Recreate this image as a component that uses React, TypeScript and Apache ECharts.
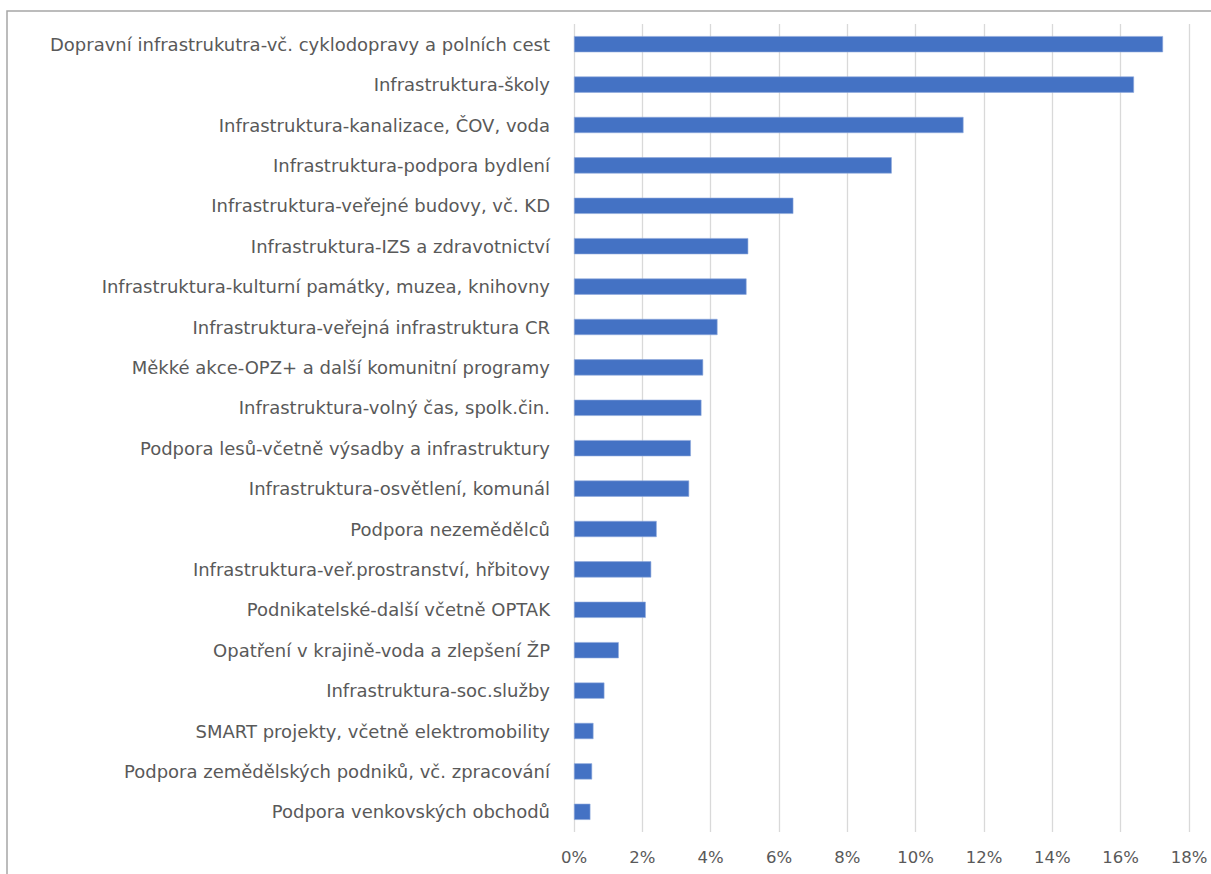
import React, { useEffect, useRef } from "react";
import * as echarts from "echarts";

const categories: string[] = [
  "Dopravní infrastrukutra-vč. cyklodopravy a polních cest",
  "Infrastruktura-školy",
  "Infrastruktura-kanalizace, ČOV, voda",
  "Infrastruktura-podpora bydlení",
  "Infrastruktura-veřejné budovy, vč. KD",
  "Infrastruktura-IZS a zdravotnictví",
  "Infrastruktura-kulturní památky, muzea, knihovny",
  "Infrastruktura-veřejná infrastruktura CR",
  "Měkké akce-OPZ+ a další komunitní programy",
  "Infrastruktura-volný čas, spolk.čin.",
  "Podpora lesů-včetně výsadby a infrastruktury",
  "Infrastruktura-osvětlení, komunál",
  "Podpora nezemědělců",
  "Infrastruktura-veř.prostranství, hřbitovy",
  "Podnikatelské-další včetně OPTAK",
  "Opatření v krajině-voda a zlepšení ŽP",
  "Infrastruktura-soc.služby",
  "SMART projekty, včetně elektromobility",
  "Podpora zemědělských podniků, vč. zpracování",
  "Podpora venkovských obchodů",
];

const shares: number[] = [
  0.1724, 0.1639, 0.114, 0.093, 0.0642, 0.051, 0.0505, 0.042, 0.0378, 0.0373,
  0.0342, 0.0337, 0.0242, 0.0226, 0.021, 0.0131, 0.0089, 0.0057, 0.0053, 0.0048,
];

const xMin = 0;
const xMax = 0.18;
const xStep = 0.02;

export default function App() {
  const ref = useRef<HTMLDivElement>(null);
  useEffect(() => {
    if (!ref.current) return;
    const chart = echarts.init(ref.current, undefined, { renderer: "svg" });
    chart.setOption({
      animation: false,
      backgroundColor: "#ffffff",
      textStyle: { fontFamily: "DejaVu Sans" },
      graphic: [
        {
          type: "rect",
          shape: { x: 7, y: 11, width: 1240, height: 900 },
          style: { fill: "none", stroke: "#A6A6A6", lineWidth: 1.5 },
          silent: true,
        },
      ],
      grid: { left: 574, right: 22, top: 24, bottom: 42 },
      xAxis: {
        type: "value",
        min: xMin,
        max: xMax,
        interval: xStep,
        axisLine: { show: false },
        axisTick: { show: false },
        splitLine: { show: true, lineStyle: { color: "#D9D9D9", width: 1.3 } },
        axisLabel: {
          color: "#595959",
          fontSize: 16.5,
          margin: 17,
          formatter: (v: number) => `${Math.round(v * 100)}%`,
        },
      },
      yAxis: {
        type: "category",
        inverse: true,
        data: categories,
        axisLine: { show: false },
        axisTick: { show: false },
        splitLine: { show: false },
        axisLabel: { color: "#595959", fontSize: 18, margin: 24 },
      },
      series: [
        {
          type: "bar",
          data: shares,
          barWidth: "40%",
          itemStyle: { color: "#4472C4", borderColor: "#8FAADC", borderWidth: 0.6 },
        },
      ],
    });
    return () => chart.dispose();
  }, []);
  return (
    <div
      ref={ref}
      style={{ position: "fixed", left: 0, top: 0, width: 1211, height: 874 }}
    />
  );
}
